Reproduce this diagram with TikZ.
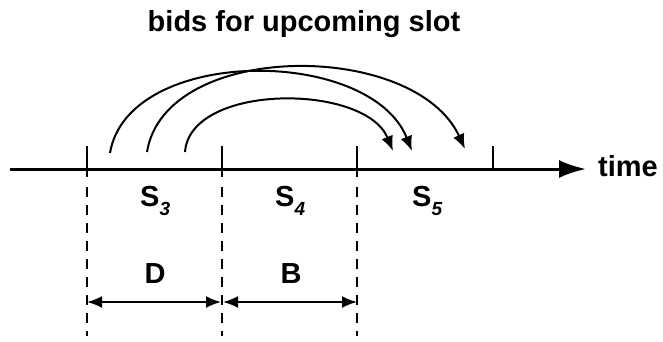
\documentclass[tikz,border=0pt]{standalone}
\usepackage{fontspec}
\setmainfont{Liberation Sans}
\usetikzlibrary{arrows.meta}
\begin{document}
\begin{tikzpicture}[x=1pt,y=-1pt,
  lbl/.style={inner sep=0pt,font=\fontsize{29}{32}\selectfont\bfseries},
  sub/.style={},
  axisline/.style={line width=3pt},
  tickline/.style={line width=2pt},
  dashline/.style={line width=2pt,dash pattern=on 10pt off 8pt},
  bidarrow/.style={line width=2pt,-{Latex[length=15pt,width=12pt]}},
  spanarrow/.style={line width=2pt,{Latex[length=15pt,width=12pt]}-{Latex[length=15pt,width=12pt]}}]
\useasboundingbox (0,0) rectangle (663,341);
\newcommand{\subit}[1]{\raisebox{-0.32em}{\fontsize{19}{20}\selectfont\bfseries\itshape #1}}
% title
\node[lbl,anchor=base] (title) at (304,31) {bids for upcoming slot};
% axis
\coordinate (a0) at (10,169);
\coordinate (a1) at (586,169);
\draw[axisline,-{Latex[length=27pt,width=18pt]}] (a0) -- (a1);
\node[lbl,anchor=base west] (time) at (598,176) {time};
% ticks
\foreach \n/\x in {t1/87,t2/222,t3/357}{
  \coordinate (\n top) at (\x,146);
  \coordinate (\n bot) at (\x,177);
  \draw[tickline] (\n top) -- (\n bot);
  \coordinate (\n d0) at (\x,187);
  \coordinate (\n d1) at (\x,336);
  \draw[dashline] (\n d0) -- (\n d1);
}
\coordinate (t4top) at (493,146);
\coordinate (t4bot) at (493,169);
\draw[tickline] (t4top) -- (t4bot);
% slot labels
\node[lbl,anchor=base west] (s3) at (140,206) {S\subit{3}};
\node[lbl,anchor=base west] (s4) at (275,206) {S\subit{4}};
\node[lbl,anchor=base west] (s5) at (412,206) {S\subit{5}};
% D and B
\node[lbl,anchor=base] (D) at (155,283) {D};
\node[lbl,anchor=base] (B) at (291,283) {B};
\coordinate (dl) at (87,302);
\coordinate (dm1) at (221,302);
\coordinate (dm2) at (223,302);
\coordinate (dr) at (357,302);
\draw[spanarrow] (dl) -- (dm1);
\draw[spanarrow] (dm2) -- (dr);
% bid arcs
\coordinate (b1s) at (110,153);
\coordinate (b1e) at (412,151);
\coordinate (b2s) at (147,152);
\coordinate (b2e) at (465,149);
\coordinate (b3s) at (185,152);
\coordinate (b3e) at (393,151);
\draw[bidarrow] (b1s) .. controls (128,46) and (370,46) .. (b1e);
\draw[bidarrow] (b2s) .. controls (165,40) and (415,40) .. (b2e);
\draw[bidarrow] (b3s) .. controls (190,83) and (365,83) .. (b3e);
\end{tikzpicture}
\end{document}
